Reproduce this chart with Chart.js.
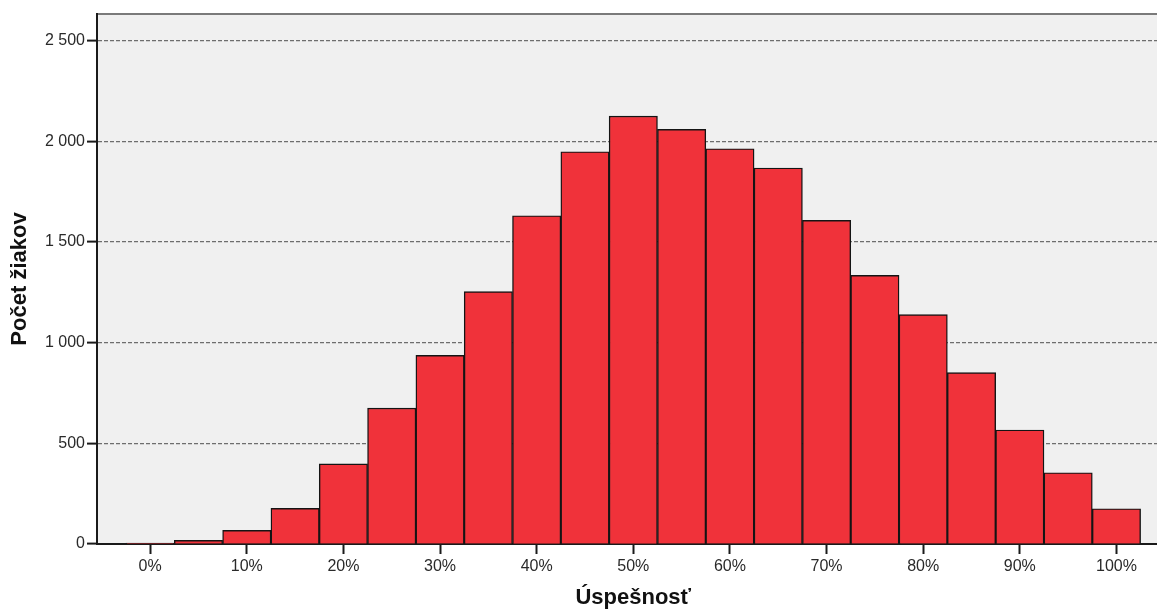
<!DOCTYPE html>
<html lang="sk">
<head>
<meta charset="utf-8">
<title>Úspešnosť</title>
<script src="https://cdn.jsdelivr.net/npm/chart.js@4.4.1/dist/chart.umd.min.js"></script>
<style>
  html, body { margin: 0; padding: 0; background: #fff; overflow: hidden; }
  #wrap { position: relative; width: 1180px; height: 609px; }
</style>
</head>
<body>
<div id="wrap"><canvas id="chartHist"></canvas></div>
<script>
'use strict';

// ── dáta ────────────────────────────────────────────────────────────────────
const BINS    = [0, 5, 10, 15, 20, 25, 30, 35, 40, 45, 50, 55, 60, 65, 70, 75, 80, 85, 90, 95, 100];
const COUNTS  = [4, 18, 68, 177, 398, 675, 937, 1253, 1630, 1948, 2125, 2059, 1963, 1867, 1607, 1334, 1139, 851, 566, 354, 175];
const X_TICKS = [0, 10, 20, 30, 40, 50, 60, 70, 80, 90, 100];
const Y_TICKS = [0, 500, 1000, 1500, 2000, 2500];

// ── paleta ──────────────────────────────────────────────────────────────────
const COLOR_BAR    = '#f0323a';
const COLOR_EDGE   = '#141414';
const COLOR_PLOTBG = '#f0f0f0';
const COLOR_GRID   = '#6e6e6e';
const COLOR_AXIS   = '#1a1a1a';
const COLOR_TEXT   = '#2a2a2a';

function fmtTis(n) {
    return String(n).replace(/\B(?=(\d{3})+(?!\d))/g, ' ');
}

// pozadie plochy grafu + horný okraj
const plotBg = {
    id: 'plotBg',
    beforeDraw(chart) {
        const { ctx, chartArea: a } = chart;
        ctx.save();
        ctx.fillStyle = COLOR_PLOTBG;
        ctx.fillRect(a.left, a.top, a.right - a.left, a.bottom - a.top);
        ctx.strokeStyle = '#7a7a7a';
        ctx.lineWidth = 2;
        ctx.beginPath();
        ctx.moveTo(a.left, a.top);
        ctx.lineTo(a.right, a.top);
        ctx.stroke();
        ctx.restore();
    },
};

Chart.defaults.font.family = '"Liberation Sans", Arial, sans-serif';
Chart.defaults.color = COLOR_TEXT;

new Chart(document.getElementById('chartHist'), {
    type: 'bar',
    data: {
        datasets: [{
            label: 'Počet žiakov',
            data: BINS.map((b, i) => ({ x: b, y: COUNTS[i] })),
            backgroundColor: COLOR_BAR,
            borderColor: COLOR_EDGE,
            borderWidth: 1.4,
            barPercentage: 1,
            categoryPercentage: 1,
        }],
    },
    options: {
        responsive: true,
        maintainAspectRatio: false,
        animation: false,
        layout: { padding: { top: 14, right: 10.4, left: 0, bottom: 0 } },
        plugins: { legend: { display: false }, tooltip: { enabled: false } },
        scales: {
            x: {
                type: 'linear',
                min: -5.5,
                max: 105.5,
                offset: false,
                afterBuildTicks: s => { s.ticks = X_TICKS.map(v => ({ value: v })); },
                afterFit: s => { s.height = 65; },
                grid: {
                    offset: false,
                    drawOnChartArea: false,
                    drawTicks: true,
                    tickLength: 10,
                    tickWidth: 2,
                    tickColor: COLOR_AXIS,
                },
                border: { color: COLOR_AXIS, width: 2 },
                ticks: {
                    padding: 3,
                    maxRotation: 0,
                    font: { size: 16 },
                    callback: v => v + '%',
                },
                title: {
                    display: true,
                    text: 'Úspešnosť',
                    font: { size: 22, weight: 'bold', lineHeight: 1 },
                    color: '#111',
                    padding: { top: 0, bottom: 0 },
                },
            },
            y: {
                min: 0,
                max: 2632,
                afterBuildTicks: s => { s.ticks = Y_TICKS.map(v => ({ value: v })); },
                afterFit: s => { s.width = 97; },
                grid: {
                    color: COLOR_GRID,
                    lineWidth: 1.2,
                    drawTicks: true,
                    tickLength: 10,
                    tickWidth: 2,
                    tickColor: COLOR_AXIS,
                },
                border: { color: COLOR_AXIS, width: 2, dash: [4, 2] },
                ticks: {
                    padding: 2,
                    font: { size: 16 },
                    callback: v => fmtTis(v),
                },
                title: {
                    display: true,
                    text: 'Počet žiakov',
                    font: { size: 22, weight: 'bold', lineHeight: 1 },
                    color: '#111',
                    padding: { top: 9, bottom: 0 },
                },
            },
        },
    },
    plugins: [plotBg],
});
</script>
</body>
</html>
